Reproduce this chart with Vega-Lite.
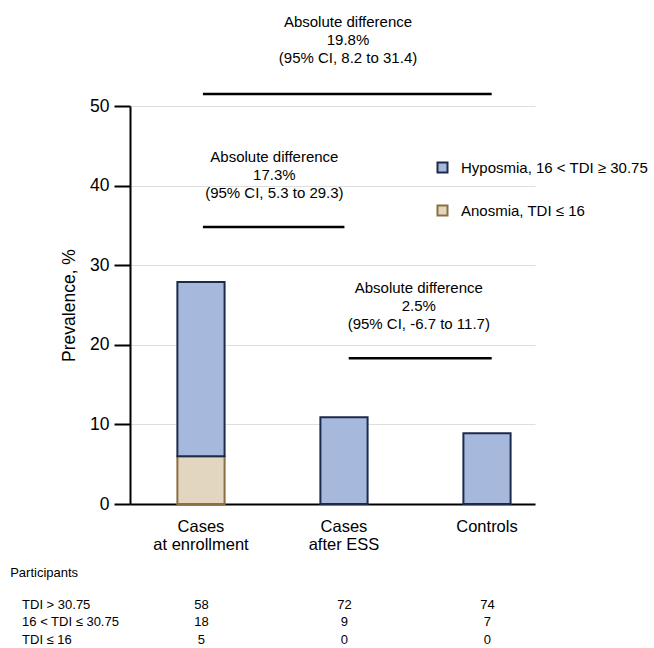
{
  "$schema": "https://vega.github.io/schema/vega-lite/v6.json",
  "width": 405,
  "height": 398,
  "autosize": {"type": "none"},
  "padding": {"left": 130, "top": 106, "right": 119, "bottom": 144},
  "config": {
    "view": {"stroke": null},
    "font": "Liberation Sans",
    "text": {"font": "Liberation Sans", "color": "black"}
  },
  "datasets": {
    "bars": [
      {"group": "Cases at enrollment", "type": "Anosmia, TDI ≤ 16", "ord": 1, "value": 6},
      {"group": "Cases at enrollment", "type": "Hyposmia, 16 < TDI ≥ 30.75", "ord": 2, "value": 21.9},
      {"group": "Cases after ESS", "type": "Hyposmia, 16 < TDI ≥ 30.75", "ord": 2, "value": 10.9},
      {"group": "Controls", "type": "Hyposmia, 16 < TDI ≥ 30.75", "ord": 2, "value": 8.9}
    ],
    "rules": [
      {"x1": 0.01, "x2": 2.03, "y": 51.5},
      {"x1": 0.01, "x2": 1.0, "y": 34.8},
      {"x1": 1.03, "x2": 2.03, "y": 18.3}
    ],
    "notes": [
      {"x": 1.025, "y": 60.6, "label": "Absolute difference\n19.8%\n(95% CI, 8.2 to 31.4)"},
      {"x": 0.51, "y": 43.6, "label": "Absolute difference\n17.3%\n(95% CI, 5.3 to 29.3)"},
      {"x": 1.52, "y": 27.1, "label": "Absolute difference\n2.5%\n(95% CI, -6.7 to 11.7)"}
    ],
    "rowlabels": [
      {"x": -1.338, "y": -8.67, "label": "Participants"},
      {"x": -1.255, "y": -12.69, "label": "TDI > 30.75"},
      {"x": -1.255, "y": -14.82, "label": "16 < TDI ≤ 30.75"},
      {"x": -1.255, "y": -17.09, "label": "TDI ≤ 16"}
    ],
    "counts": [
      {"x": 0, "y": -12.69, "label": "58"},
      {"x": 1, "y": -12.69, "label": "72"},
      {"x": 2, "y": -12.69, "label": "74"},
      {"x": 0, "y": -14.82, "label": "18"},
      {"x": 1, "y": -14.82, "label": "9"},
      {"x": 2, "y": -14.82, "label": "7"},
      {"x": 0, "y": -17.09, "label": "5"},
      {"x": 1, "y": -17.09, "label": "0"},
      {"x": 2, "y": -17.09, "label": "0"}
    ]
  },
  "layer": [
    {
      "data": {"name": "bars"},
      "mark": {"type": "bar", "strokeWidth": 2},
      "encoding": {
        "x": {
          "field": "group", "type": "nominal",
          "sort": ["Cases at enrollment", "Cases after ESS", "Controls"],
          "scale": {"paddingInner": 0.67, "paddingOuter": 0.251, "align": 0.66},
          "axis": {
            "title": null, "labelAngle": 0, "ticks": false, "tickSize": 0,
            "domainColor": "black", "domainWidth": 2,
            "labelFontSize": 16.5, "labelColor": "black", "labelPadding": 14,
            "labelLineHeight": 18, "labelFont": "Liberation Sans",
            "labelExpr": "datum.label == 'Cases at enrollment' ? ['Cases', 'at enrollment'] : datum.label == 'Cases after ESS' ? ['Cases', 'after ESS'] : datum.label"
          }
        },
        "y": {
          "field": "value", "type": "quantitative", "stack": "zero",
          "title": "Prevalence, %",
          "scale": {"domain": [0, 50], "nice": false, "zero": true},
          "axis": {
            "values": [0, 10, 20, 30, 40, 50],
            "grid": true, "gridColor": "#dedede", "gridWidth": 1.2,
            "domainColor": "black", "domainWidth": 2,
            "tickColor": "black", "tickWidth": 2, "tickSize": 16,
            "labelFontSize": 17.5, "labelColor": "black", "labelPadding": 5, "labelFont": "Liberation Sans",
            "titleFontSize": 17.5, "titleFontWeight": "normal", "titleColor": "black",
            "titlePadding": 11, "titleFont": "Liberation Sans"
          }
        },
        "color": {
          "field": "type", "type": "nominal",
          "scale": {"domain": ["Hyposmia, 16 < TDI ≥ 30.75", "Anosmia, TDI ≤ 16"], "range": ["#a6b9dc", "#e2d6c1"]},
          "legend": {
            "title": null, "orient": "none", "legendX": 305, "legendY": 54,
            "direction": "vertical", "symbolType": "square", "symbolSize": 100,
            "symbolStrokeWidth": 2, "labelFontSize": 15, "labelColor": "black",
            "labelFont": "Liberation Sans", "labelOffset": 11, "rowPadding": 24, "padding": 0, "labelLimit": 0
          }
        },
        "stroke": {
          "field": "type", "type": "nominal",
          "scale": {"domain": ["Hyposmia, 16 < TDI ≥ 30.75", "Anosmia, TDI ≤ 16"], "range": ["#1c2b4b", "#8c6e43"]},
          "legend": {
            "title": null, "orient": "none", "legendX": 305, "legendY": 54,
            "direction": "vertical", "symbolType": "square", "symbolSize": 100,
            "symbolStrokeWidth": 2, "labelFontSize": 15, "labelColor": "black",
            "labelFont": "Liberation Sans", "labelOffset": 11, "rowPadding": 24, "padding": 0, "labelLimit": 0
          }
        },
        "order": {"field": "ord", "type": "quantitative"}
      }
    },
    {
      "data": {"name": "rules"},
      "mark": {"type": "rule", "strokeWidth": 2.5, "color": "black"},
      "encoding": {
        "x": {"field": "x1", "type": "quantitative", "scale": {"domain": [-0.5, 2.333], "nice": false, "zero": false}, "axis": null},
        "x2": {"field": "x2"},
        "y": {"field": "y", "type": "quantitative", "title": "Prevalence, %", "scale": {"domain": [0, 50], "nice": false}}
      }
    },
    {
      "data": {"name": "notes"},
      "mark": {"type": "text", "fontSize": 15, "lineHeight": 18, "lineBreak": "\n", "align": "center", "baseline": "middle", "color": "black"},
      "encoding": {
        "x": {"field": "x", "type": "quantitative", "scale": {"domain": [-0.5, 2.333], "nice": false, "zero": false}, "axis": null},
        "y": {"field": "y", "type": "quantitative", "title": "Prevalence, %", "scale": {"domain": [0, 50], "nice": false}},
        "text": {"field": "label"}
      }
    },
    {
      "data": {"name": "rowlabels"},
      "mark": {"type": "text", "fontSize": 13, "align": "left", "baseline": "middle", "color": "black"},
      "encoding": {
        "x": {"field": "x", "type": "quantitative", "scale": {"domain": [-0.5, 2.333], "nice": false, "zero": false}, "axis": null},
        "y": {"field": "y", "type": "quantitative", "title": "Prevalence, %", "scale": {"domain": [0, 50], "nice": false}},
        "text": {"field": "label"}
      }
    },
    {
      "data": {"name": "counts"},
      "mark": {"type": "text", "fontSize": 13, "align": "center", "baseline": "middle", "color": "black"},
      "encoding": {
        "x": {"field": "x", "type": "quantitative", "scale": {"domain": [-0.5, 2.333], "nice": false, "zero": false}, "axis": null},
        "y": {"field": "y", "type": "quantitative", "title": "Prevalence, %", "scale": {"domain": [0, 50], "nice": false}},
        "text": {"field": "label"}
      }
    }
  ],
  "resolve": {"scale": {"x": "independent"}}
}
